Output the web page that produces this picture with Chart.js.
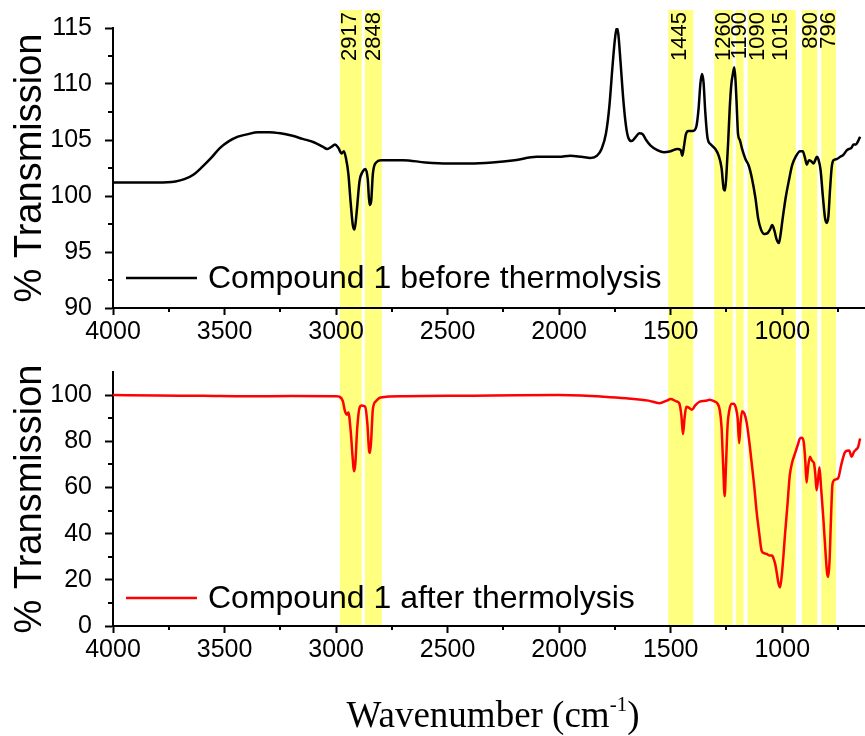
<!DOCTYPE html>
<html>
<head>
<meta charset="utf-8">
<script src="https://cdn.jsdelivr.net/npm/chart.js"></script>
<style>
    html, body { margin: 0; padding: 0; background: #fff; }
    #wrap { position: relative; width: 865px; height: 736px; overflow: hidden; }
    .panel { position: absolute; left: 0; width: 865px; }
    #top-panel { top: 0; height: 344px; }
    #bottom-panel { top: 344px; height: 392px; }
</style>
</head>
<body>
<div id="wrap">
    <div class="panel" id="top-panel"><canvas id="before-chart"></canvas></div>
    <div class="panel" id="bottom-panel"><canvas id="after-chart"></canvas></div>
</div>
<script>
// ---- data ----
const wnBefore = [4000, 3900, 3800, 3720, 3680, 3640, 3600, 3560, 3520, 3480, 3440, 3400, 3350, 3300, 3250, 3200, 3150, 3100, 3060, 3040, 3020, 3005, 2990, 2975, 2965, 2955, 2945, 2935, 2925, 2917, 2908, 2895, 2880, 2868, 2858, 2850, 2843, 2835, 2820, 2800, 2700, 2600, 2500, 2400, 2300, 2200, 2100, 2000, 1950, 1900, 1860, 1830, 1810, 1790, 1775, 1760, 1750, 1742, 1735, 1725, 1712, 1700, 1690, 1675, 1660, 1640, 1625, 1610, 1590, 1560, 1530, 1500, 1470, 1455, 1448, 1440, 1432, 1420, 1400, 1385, 1375, 1367, 1360, 1353, 1345, 1335, 1320, 1300, 1285, 1272, 1262, 1256, 1250, 1242, 1235, 1228, 1222, 1215, 1210, 1205, 1198, 1190, 1180, 1165, 1150, 1135, 1120, 1108, 1095, 1080, 1065, 1055, 1045, 1035, 1025, 1015, 1008, 998, 985, 970, 955, 940, 920, 908, 898, 890, 880, 870, 860, 852, 845, 838, 828, 818, 808, 800, 793, 786, 778, 770, 755, 740, 725, 710, 700, 690, 680, 670, 660, 651];
const tBefore = [101.2, 101.2, 101.2, 101.3, 101.5, 101.9, 102.6, 103.4, 104.3, 104.9, 105.3, 105.5, 105.7, 105.7, 105.6, 105.4, 105.1, 104.8, 104.4, 104.2, 104.4, 104.6, 104.3, 103.8, 104.0, 103.3, 102.0, 99.5, 97.4, 97.0, 98.5, 101.3, 102.2, 102.4, 101.5, 99.2, 99.5, 102.0, 103.0, 103.2, 103.2, 103.0, 102.9, 102.9, 103.0, 103.2, 103.5, 103.5, 103.6, 103.5, 103.4, 103.6, 104.2, 105.6, 108.0, 111.8, 114.0, 115.0, 114.5, 112.0, 108.5, 106.2, 105.2, 104.9, 105.2, 105.6, 105.5, 105.0, 104.5, 104.1, 103.9, 104.0, 104.2, 104.1, 103.6, 104.5, 105.5, 105.8, 105.8, 106.2, 107.8, 110.0, 110.9, 110.2, 107.5, 105.2, 104.6, 104.2, 103.6, 102.5, 100.6, 100.5, 102.0, 105.0, 108.0, 110.0, 110.8, 111.5, 110.5, 108.5, 105.5, 105.0, 104.2, 103.3, 102.7, 101.5, 99.8, 98.0, 97.0, 96.6, 96.7, 97.0, 97.4, 96.9, 96.1, 95.8, 96.5, 98.0, 99.8, 101.4, 102.8, 103.5, 104.0, 104.0, 103.4, 102.8, 103.2, 103.1, 102.9, 103.2, 103.5, 103.3, 102.3, 100.0, 98.0, 97.6, 98.2, 100.5, 102.6, 103.2, 103.3, 103.5, 103.7, 104.1, 104.2, 104.3, 104.6, 104.6, 104.9, 105.3];

const wnAfter = [4000, 3800, 3600, 3400, 3200, 3000, 2985, 2970, 2960, 2952, 2945, 2935, 2925, 2920, 2914, 2905, 2895, 2885, 2870, 2860, 2852, 2848, 2843, 2835, 2820, 2800, 2700, 2500, 2300, 2000, 1900, 1800, 1700, 1600, 1550, 1520, 1500, 1475, 1462, 1452, 1445, 1438, 1430, 1418, 1405, 1390, 1370, 1345, 1325, 1305, 1290, 1280, 1272, 1265, 1258, 1252, 1245, 1238, 1228, 1218, 1208, 1200, 1193, 1187, 1180, 1170, 1160, 1148, 1137, 1125, 1115, 1103, 1092, 1080, 1070, 1055, 1045, 1040, 1032, 1025, 1017, 1010, 1002, 995, 988, 977, 966, 955, 943, 930, 921, 912, 903, 897, 891, 885, 876, 866, 858, 852, 846, 840, 833, 826, 816, 806, 799, 794, 788, 782, 776, 771, 760, 749, 735, 720, 711, 700, 689, 678, 667, 660, 651];
const tAfter = [100.0, 99.8, 99.7, 99.5, 99.6, 99.5, 99.3, 97.5, 93.0, 91.5, 92.5, 85.0, 72.0, 67.0, 70.0, 86.0, 94.5, 95.5, 95.0, 88.0, 76.0, 75.0, 80.0, 94.0, 97.5, 99.0, 99.5, 99.7, 99.8, 100.0, 99.8, 99.3, 98.6, 97.6, 96.5, 97.5, 98.3, 97.3, 96.5, 91.0, 83.1, 90.0, 95.0, 94.5, 93.7, 95.5, 97.2, 97.5, 98.0, 97.3, 96.3, 93.5, 86.0, 70.0, 56.2, 70.0, 87.0, 93.0, 96.2, 96.3, 94.5, 90.0, 79.2, 88.0, 93.0, 92.0, 88.4, 80.0, 70.6, 60.0, 49.6, 40.0, 32.5, 31.5, 31.2, 30.5, 30.5, 29.5, 27.0, 23.3, 18.5, 16.7, 22.0, 30.0, 39.1, 52.0, 65.4, 71.0, 74.6, 78.5, 81.2, 81.5, 79.2, 72.0, 62.1, 68.0, 73.3, 71.5, 70.6, 66.0, 58.8, 63.0, 68.7, 60.0, 47.0, 32.0, 23.0, 21.3, 28.0, 45.0, 60.0, 62.7, 63.5, 64.1, 70.0, 75.0, 75.9, 76.0, 73.3, 75.5, 76.6, 77.5, 81.2];

// highlighted regions (cm-1) and their peak labels
const bandFrom = [2983, 2871, 1511, 1305, 1208, 1155, 912, 825];
const bandTo = [2885, 2795, 1399, 1222, 1173, 939, 843, 759];
const peakLabels = ['2917', '2848', '1445', '1260', '1190', '1090', '1015', '890', '796'];
const peakLabelAt = [2942, 2834, 1463, 1265, 1194, 1115, 1010, 876, 794];

// axis ticks
const xTicks = [1000, 1500, 2000, 2500, 3000, 3500, 4000];
const xMinorTicks = [750, 1250, 1750, 2250, 2750, 3250, 3750];
const yTicksBefore = [90, 95, 100, 105, 110, 115];
const yMinorBefore = [92.5, 97.5, 102.5, 107.5, 112.5];
const yTicksAfter = [0, 20, 40, 60, 80, 100];
const yMinorAfter = [10, 30, 50, 70, 90];

const BAND_COLOR = '#ffff80';
const SANS = "'Liberation Sans', Arial, sans-serif";
const SERIF = "'Liberation Serif', 'Times New Roman', serif";

Chart.defaults.font.family = SANS;
Chart.defaults.color = '#000';

// bands, minor ticks, peak labels, legend, x title
const panelDecor = {
    id: 'panelDecor',
    beforeDraw(chart, args, opts) {
        const { ctx, scales: { x } } = chart;
        const bottom = opts.bandToArea ? chart.chartArea.bottom : chart.height;
        ctx.save();
        ctx.fillStyle = BAND_COLOR;
        bandFrom.forEach((from, i) => {
            const a = x.getPixelForValue(from);
            const b = x.getPixelForValue(bandTo[i]);
            ctx.fillRect(Math.min(a, b), opts.bandTop, Math.abs(b - a), bottom - opts.bandTop);
        });
        ctx.restore();
    },
    afterDraw(chart, args, opts) {
        const { ctx, chartArea, scales: { x, y } } = chart;
        ctx.save();
        ctx.strokeStyle = '#000';
        ctx.lineWidth = 2;
        ctx.beginPath();
        xMinorTicks.forEach(v => {
            const px = Math.round(x.getPixelForValue(v));
            ctx.moveTo(px, chartArea.bottom);
            ctx.lineTo(px, chartArea.bottom + 4);
        });
        opts.yMinor.forEach(v => {
            const py = Math.round(y.getPixelForValue(v));
            ctx.moveTo(chartArea.left, py);
            ctx.lineTo(chartArea.left - 5, py);
        });
        ctx.stroke();

        // legend
        ctx.strokeStyle = opts.lineColor;
        ctx.lineWidth = 2.5;
        ctx.beginPath();
        ctx.moveTo(126, opts.legendY);
        ctx.lineTo(197, opts.legendY);
        ctx.stroke();
        ctx.fillStyle = '#000';
        ctx.font = '32px ' + SANS;
        ctx.textBaseline = 'middle';
        ctx.textAlign = 'left';
        ctx.fillText(opts.legendText, 208, opts.legendY + 1);

        if (opts.peaks) {
            ctx.font = '22px ' + SANS;
            ctx.textAlign = 'right';
            peakLabels.forEach((txt, i) => {
                ctx.save();
                ctx.translate(x.getPixelForValue(peakLabelAt[i]), 12);
                ctx.rotate(-Math.PI / 2);
                ctx.fillText(txt, 0, 1);
                ctx.restore();
            });
        }

        if (opts.xTitle) {
            const base = 727 - 344;
            const main = 'Wavenumber (cm', sup = '-1', close = ')';
            ctx.textBaseline = 'alphabetic';
            ctx.textAlign = 'left';
            ctx.font = '37px ' + SERIF;
            const wMain = ctx.measureText(main).width;
            const wClose = ctx.measureText(close).width;
            ctx.font = '21px ' + SERIF;
            const wSup = ctx.measureText(sup).width;
            let cx = 493 - (wMain + wSup + wClose) / 2;
            ctx.font = '37px ' + SERIF;
            ctx.fillText(main, cx, base);
            cx += wMain;
            ctx.font = '21px ' + SERIF;
            ctx.fillText(sup, cx, base - 16);
            cx += wSup;
            ctx.font = '37px ' + SERIF;
            ctx.fillText(close, cx, base);
        }
        ctx.restore();
    }
};

function makeAxes(yMin, yMax, yTicks, xHeight) {
    const tickFont = { family: SANS, size: 25 };
    return {
        x: {
            type: 'linear',
            reverse: true,
            min: 629,
            max: 4000,
            afterBuildTicks: s => { s.ticks = xTicks.map(v => ({ value: v })); },
            afterFit: s => { s.height = xHeight; },
            border: { color: '#000', width: 2 },
            grid: { drawOnChartArea: false, drawTicks: true, tickLength: 7, tickWidth: 2, tickColor: '#000' },
            ticks: { color: '#000', font: tickFont, padding: 2, maxRotation: 0, autoSkip: false, callback: v => String(v) }
        },
        y: {
            min: yMin,
            max: yMax,
            afterBuildTicks: s => { s.ticks = yTicks.map(v => ({ value: v })); },
            afterFit: s => { s.width = 113; },
            border: { color: '#000', width: 2 },
            grid: { drawOnChartArea: false, drawTicks: true, tickLength: 8, tickWidth: 2, tickColor: '#000' },
            ticks: { color: '#000', font: tickFont, padding: 13, autoSkip: false, callback: v => String(v) },
            title: { display: true, text: '% Transmission', color: '#000', font: { family: SANS, size: 38 }, padding: { top: 8, bottom: 0 } }
        }
    };
}

function makeChart(id, wn, t, color, cfg) {
    return new Chart(document.getElementById(id), {
        type: 'line',
        data: {
            datasets: [{
                data: wn.map((w, i) => ({ x: w, y: t[i] })),
                borderColor: color,
                borderWidth: 2.5,
                pointRadius: 0,
                cubicInterpolationMode: 'monotone'
            }]
        },
        options: {
            responsive: true,
            maintainAspectRatio: false,
            animation: false,
            events: [],
            layout: { padding: { top: cfg.padTop, right: 0, bottom: 0, left: 0 } },
            scales: makeAxes(cfg.yMin, cfg.yMax, cfg.yTicks, cfg.xHeight),
            plugins: {
                legend: { display: false },
                tooltip: { enabled: false },
                panelDecor: cfg.decor
            }
        },
        plugins: [panelDecor]
    });
}

makeChart('before-chart', wnBefore, tBefore, '#000', {
    padTop: 28, yMin: 90, yMax: 115, yTicks: yTicksBefore, xHeight: 36,
    decor: { bandTop: 10, bandToArea: false, yMinor: yMinorBefore, lineColor: '#000', legendY: 278, legendText: 'Compound 1 before thermolysis', peaks: true, xTitle: false }
});

makeChart('after-chart', wnAfter, tAfter, '#ff0000', {
    padTop: 3, yMin: 0, yMax: 110, yTicks: yTicksAfter, xHeight: 110,
    decor: { bandTop: 0, bandToArea: true, yMinor: yMinorAfter, lineColor: '#ff0000', legendY: 598 - 344, legendText: 'Compound 1 after thermolysis', peaks: false, xTitle: true }
});
</script>
</body>
</html>
